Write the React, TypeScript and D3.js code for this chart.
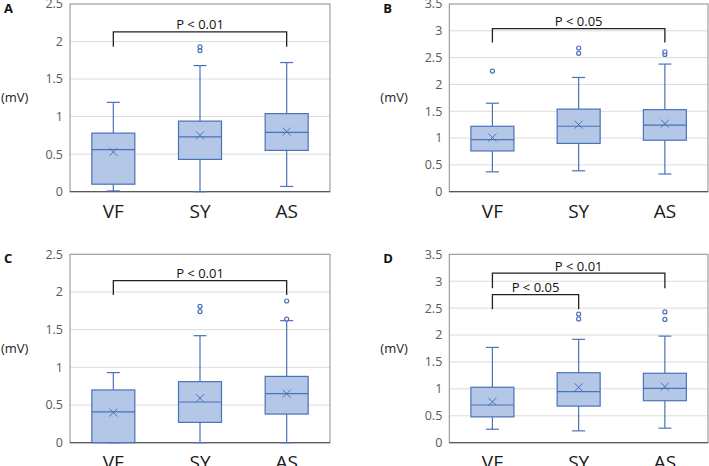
import React from 'react';
import * as d3 from 'd3';

// box stats: [min, q1, median, q3, max, mean]
type Stats = [number, number, number, number, number, number];

const categories = ['VF', 'SY', 'AS'];

const statsA: Stats[] = [
  [0.01, 0.1, 0.56, 0.78, 1.19, 0.53],
  [0.0, 0.43, 0.73, 0.94, 1.68, 0.75],
  [0.07, 0.55, 0.79, 1.04, 1.72, 0.8],
];
const outliersA: number[][] = [[], [1.88, 1.93], []];

const statsB: Stats[] = [
  [0.37, 0.76, 0.97, 1.22, 1.65, 1.01],
  [0.39, 0.9, 1.22, 1.54, 2.13, 1.25],
  [0.33, 0.96, 1.24, 1.53, 2.38, 1.27],
];
const outliersB: number[][] = [[2.25], [2.58, 2.68], [2.56, 2.61]];

const statsC: Stats[] = [
  [0.0, 0.0, 0.41, 0.7, 0.93, 0.4],
  [0.0, 0.27, 0.54, 0.81, 1.42, 0.59],
  [0.0, 0.38, 0.65, 0.88, 1.62, 0.65],
];
const outliersC: number[][] = [[], [1.74, 1.81], [1.64, 1.88]];

const statsD: Stats[] = [
  [0.25, 0.48, 0.7, 1.03, 1.77, 0.76],
  [0.22, 0.68, 0.95, 1.3, 1.92, 1.03],
  [0.27, 0.78, 1.01, 1.29, 1.98, 1.04],
];
const outliersD: number[][] = [[], [2.3, 2.39], [2.29, 2.43]];

// brackets: [fromIndex, toIndex, lineValue, legValue, label]
type Bracket = [number, number, number, number, string];
const bracketsA: Bracket[] = [[0, 2, 2.13, 1.93, 'P < 0.01']];
const bracketsB: Bracket[] = [[0, 2, 3.04, 2.78, 'P < 0.05']];
const bracketsC: Bracket[] = [[0, 2, 2.15, 1.96, 'P < 0.01']];
const bracketsD: Bracket[] = [
  [0, 2, 3.15, 2.87, 'P < 0.01'],
  [0, 1, 2.75, 2.48, 'P < 0.05'],
];

const ticks25 = [0, 0.5, 1, 1.5, 2, 2.5];
const ticks35 = [0, 0.5, 1, 1.5, 2, 2.5, 3, 3.5];

const BOX_FILL = '#b4c7e7';
const BOX_STROKE = '#4a72b8';
const FONT = '"Open Sans", "Noto Sans", sans-serif';

interface PanelProps {
  label: string;
  left: number;
  right: number;
  top: number;
  bottom: number;
  maxY: number;
  ticks: number[];
  stats: Stats[];
  outliers: number[][];
  brackets: Bracket[];
}

const Panel: React.FC<PanelProps> = ({
  label, left, right, top, bottom, maxY, ticks, stats, outliers, brackets,
}) => {
  const x = d3.scaleBand<string>().domain(categories).range([left, right]);
  const y = d3.scaleLinear().domain([0, maxY]).range([bottom, top]);
  const bw = 43;
  const cap = 13;

  return (
    <g>
      <text x={left - 66} y={top + 9} fontFamily={FONT} fontWeight="bold" fontSize={13} fill="#111">
        {label}
      </text>
      {ticks.map((t) => (
        <g key={t}>
          {t > 0 && t < maxY && (
            <line x1={left} x2={right} y1={y(t)} y2={y(t)} stroke="#dcdcdc" strokeWidth={1} />
          )}
          <text
            x={left - 7}
            y={y(t)}
            dy="0.35em"
            textAnchor="end"
            fontFamily={FONT}
            fontSize={12.5}
            fill="#595959"
          >
            {t}
          </text>
        </g>
      ))}
      <text x={left - 69} y={(top + bottom) / 2} dy="0.35em" fontFamily={FONT} fontSize={13} fill="#222">
        (mV)
      </text>
      <rect x={left} y={top} width={right - left} height={bottom - top} fill="none" stroke="#8c8c8c" strokeWidth={1} />
      <line x1={left} x2={right} y1={bottom} y2={bottom} stroke="#595959" strokeWidth={1.2} />
      {stats.map((s, i) => {
        const cx = x(categories[i])! + x.bandwidth() / 2;
        const [mn, q1, md, q3, mx, mean] = s;
        return (
          <g key={i} stroke={BOX_STROKE} strokeWidth={1.2}>
            <line x1={cx} x2={cx} y1={y(mx)} y2={y(q3)} />
            <line x1={cx} x2={cx} y1={y(q1)} y2={y(mn)} />
            <line x1={cx - cap / 2} x2={cx + cap / 2} y1={y(mx)} y2={y(mx)} />
            <line x1={cx - cap / 2} x2={cx + cap / 2} y1={y(mn)} y2={y(mn)} />
            <rect x={cx - bw / 2} y={y(q3)} width={bw} height={y(q1) - y(q3)} fill={BOX_FILL} />
            <line x1={cx - bw / 2} x2={cx + bw / 2} y1={y(md)} y2={y(md)} />
            <path
              d={`M${cx - 4},${y(mean) - 4}L${cx + 4},${y(mean) + 4}M${cx - 4},${y(mean) + 4}L${cx + 4},${y(mean) - 4}`}
              strokeWidth={1}
            />
            {outliers[i].map((o, j) => (
              <circle key={j} cx={cx} cy={y(o)} r={2} fill="#fff" strokeWidth={1.2} />
            ))}
          </g>
        );
      })}
      {brackets.map(([a, b, lv, leg, txt], i) => {
        const x1 = x(categories[a])! + x.bandwidth() / 2;
        const x2 = x(categories[b])! + x.bandwidth() / 2;
        return (
          <g key={i}>
            <path
              d={`M${x1},${y(leg)}V${y(lv)}H${x2}V${y(leg)}`}
              fill="none"
              stroke="#222"
              strokeWidth={1.3}
            />
            <text
              x={(x1 + x2) / 2}
              y={y(lv) - 2.5}
              textAnchor="middle"
              fontFamily={FONT}
              fontSize={13}
              fill="#111"
            >
              {txt}
            </text>
          </g>
        );
      })}
      {categories.map((c) => (
        <text
          key={c}
          x={x(c)! + x.bandwidth() / 2}
          y={bottom + 26}
          textAnchor="middle"
          fontFamily={FONT}
          fontSize={19}
          fill="#1a1a1a"
        >
          {c}
        </text>
      ))}
    </g>
  );
};

export default function App() {
  return (
    <svg
      width={709}
      height={466}
      style={{ position: 'absolute', left: 0, top: 0, background: '#fff' }}
    >
      <Panel label="A" left={70} right={330} top={4} bottom={191.7} maxY={2.5} ticks={ticks25}
        stats={statsA} outliers={outliersA} brackets={bracketsA} />
      <Panel label="B" left={449.3} right={708} top={4} bottom={191.7} maxY={3.5} ticks={ticks35}
        stats={statsB} outliers={outliersB} brackets={bracketsB} />
      <Panel label="C" left={70} right={330} top={254.3} bottom={442.7} maxY={2.5} ticks={ticks25}
        stats={statsC} outliers={outliersC} brackets={bracketsC} />
      <Panel label="D" left={449.3} right={708} top={254.3} bottom={442.7} maxY={3.5} ticks={ticks35}
        stats={statsD} outliers={outliersD} brackets={bracketsD} />
    </svg>
  );
}
